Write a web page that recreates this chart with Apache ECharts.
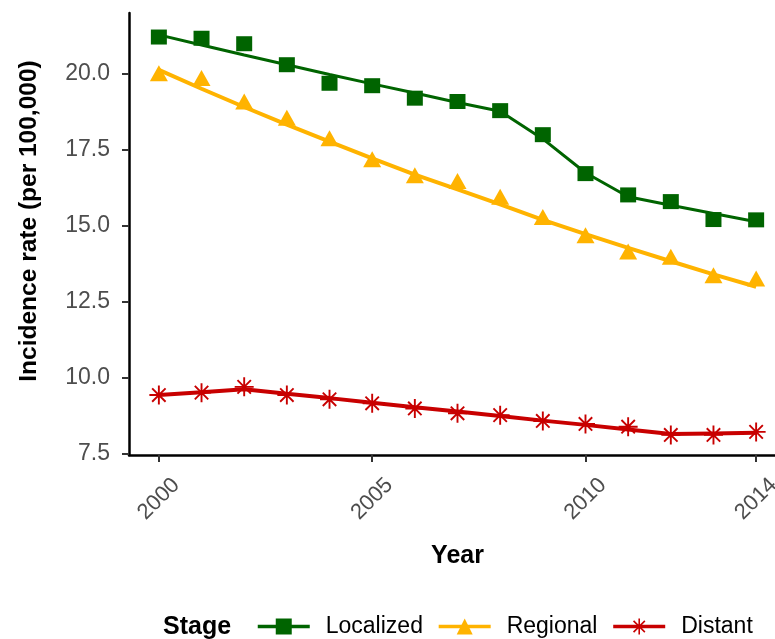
<!DOCTYPE html>
<html>
<head>
<meta charset="utf-8">
<script src="https://cdn.jsdelivr.net/npm/echarts@6/dist/echarts.min.js"></script>
<style>
html,body{margin:0;padding:0;background:#fff;}
#chart{width:775px;height:639px;}
</style>
</head>
<body>
<div id="chart"></div>
<script>
const years = [2000,2001,2002,2003,2004,2005,2006,2007,2008,2009,2010,2011,2012,2013,2014];
const xTicks = [2000,2005,2010,2014];
const yTicks = [7.5,10,12.5,15,17.5,20];
const stages = ['Localized','Regional','Distant'];

const localizedObs = [21.21,21.17,20.99,20.30,19.69,19.61,19.20,19.09,18.79,18.00,16.72,16.02,15.80,15.21,15.20];
const localizedFit = [21.28,20.95,20.62,20.30,19.98,19.67,19.37,19.06,18.77,17.86,16.75,15.96,15.68,15.41,15.14];
const regionalObs  = [20.02,19.86,19.09,18.56,17.88,17.19,16.67,16.48,15.96,15.29,14.69,14.16,13.99,13.38,13.27];
const regionalFit  = [20.13,19.51,18.91,18.33,17.77,17.22,16.69,16.20,15.71,15.20,14.73,14.28,13.84,13.41,13.00];
const distantObs   = [9.44,9.52,9.71,9.44,9.30,9.17,9.00,8.84,8.78,8.59,8.49,8.40,8.13,8.13,8.23];
const distantFit   = [9.44,9.53,9.63,9.48,9.34,9.19,9.04,8.90,8.75,8.60,8.46,8.31,8.16,8.18,8.20];

const colors = {Localized:'#006400', Regional:'#FFB300', Distant:'#C80000'};
const asterisk = 'path://M45 0L55 0L55 100L45 100Z M0 45L100 45L100 55L0 55Z M11.1 18.2L18.2 11.1L88.9 81.8L81.8 88.9Z M81.8 11.1L88.9 18.2L18.2 88.9L11.1 81.8Z';
const symbols = {Localized:{s:'rect',size:[16,15]}, Regional:{s:'triangle',size:[18,16]}, Distant:{s:asterisk,size:[19,19]}};
const lineWidths = {Localized:3, Regional:4, Distant:4};

const obs = {Localized:localizedObs, Regional:regionalObs, Distant:distantObs};
const fit = {Localized:localizedFit, Regional:regionalFit, Distant:distantFit};

const font = "'Liberation Sans', Arial, sans-serif";
const series = [];
stages.forEach(function(st){
  series.push({
    name: st, type: 'line',
    data: years.map(function(y,i){return [y, fit[st][i]];}),
    symbol: symbols[st].s, symbolSize: symbols[st].size, showSymbol: false,
    lineStyle: {color: colors[st], width: lineWidths[st]},
    itemStyle: {color: colors[st]},
    z: 2, silent: true
  });
});
stages.forEach(function(st){
  series.push({
    name: st, type: 'scatter',
    data: years.map(function(y,i){return [y, obs[st][i]];}),
    symbol: symbols[st].s, symbolSize: symbols[st].size,
    itemStyle: {color: colors[st], opacity: 1},
    z: 3, silent: true
  });
});

const chart = echarts.init(document.getElementById('chart'), null, {renderer:'canvas'});
chart.setOption({
  animation: false,
  backgroundColor: '#ffffff',
  textStyle: {fontFamily: font},
  grid: {left: 129, right: -11, top: 13, bottom: 184, containLabel: false, outerBoundsMode: 'none'},
  title: {
    text: 'Stage', left: 158, top: 610, padding: 5,
    textStyle: {fontFamily: font, fontWeight: 'bold', fontSize: 25, color: '#000'}
  },
  legend: {
    data: stages, left: 256, top: 615, orient: 'horizontal', padding: 0,
    itemWidth: 52, itemHeight: 20, itemGap: 14,
    lineStyle: {width: 3.5},
    textStyle: {fontFamily: font, fontSize: 23, color: '#000', padding: [0,0,0,11]}
  },
  xAxis: {
    type: 'value', min: 1999.3, max: 2014.7,
    name: 'Year', nameLocation: 'middle', nameGap: 89,
    nameTextStyle: {fontFamily: font, fontWeight: 'bold', fontSize: 25, color: '#000'},
    axisLine: {show: true, lineStyle: {color: '#000', width: 2.5}},
    axisTick: {show: true, length: 7, lineStyle: {color: '#333', width: 2}, customValues: xTicks},
    axisLabel: {
      customValues: xTicks, rotate: 45, align: 'center', verticalAlign: 'middle', margin: 44,
      padding: [12.7,0,0,0],
      fontFamily: font, fontSize: 22, color: '#4D4D4D',
      formatter: function(v){return String(Math.round(v));}
    },
    splitLine: {show: false}
  },
  yAxis: {
    type: 'value', min: 7.47, max: 22.0,
    name: 'Incidence rate (per 100,000)', nameLocation: 'middle', nameGap: 87,
    nameTextStyle: {fontFamily: font, fontWeight: 'bold', fontSize: 24.5, color: '#000', padding: [0,0,0,26]},
    axisLine: {show: true, lineStyle: {color: '#000', width: 2.5}},
    axisTick: {show: true, length: 7, lineStyle: {color: '#333', width: 2}, customValues: yTicks},
    axisLabel: {
      customValues: yTicks, margin: 19,
      fontFamily: font, fontSize: 23, color: '#4D4D4D',
      formatter: function(v){return v.toFixed(1);}
    },
    splitLine: {show: false}
  },
  series: series
});
</script>
</body>
</html>
